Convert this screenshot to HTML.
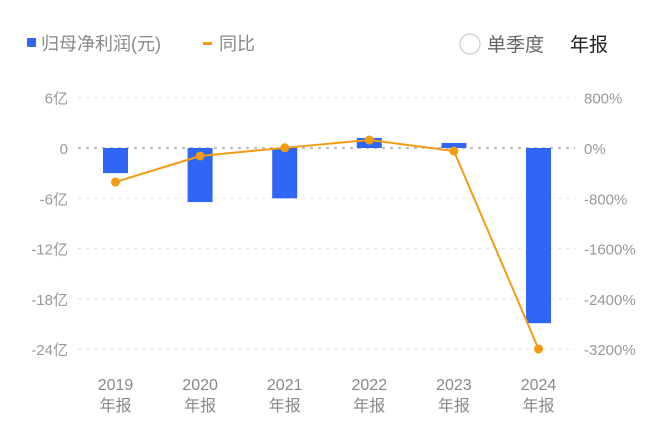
<!DOCTYPE html>
<html><head><meta charset="utf-8"><style>
body{margin:0;width:660px;height:431px;background:#fff;overflow:hidden;font-family:"Liberation Sans","Noto Sans CJK SC",sans-serif;}
svg text{font-family:"Liberation Sans","Noto Sans CJK SC",sans-serif;}
</style></head><body>
<svg width="660" height="431">
<g>
<rect x="27" y="38" width="9" height="9" rx="1" fill="#2f66f5"/>
<text x="41" y="50" font-size="18" fill="#888">归母净利润(元)</text>
<rect x="203" y="42" width="9" height="3" fill="#f39c12"/>
<text x="219" y="50" font-size="18" fill="#888">同比</text>
</g>
<circle cx="470" cy="44" r="10" fill="none" stroke="#ccc" stroke-width="1.2"/>
<text x="487" y="51" font-size="19" fill="#666">单季度</text>
<text x="570" y="51" font-size="19" fill="#222">年报</text>
<g id="grid"></g><g id="bars"></g><g id="line"></g><g id="labels"></g>
</svg>
<script>
const categories=["2019","2020","2021","2022","2023","2024"];
const profit=[-3.0,-6.45,-6.0,1.2,0.6,-20.9];
const yoy=[-541,-127,3,127,-48,-3197];
const leftTicks=[6,0,-6,-12,-18,-24];
const leftTickLabels=["6亿","0","-6亿","-12亿","-18亿","-24亿"];
const rightTickLabels=["800%","0%","-800%","-1600%","-2400%","-3200%"];
const rightTicks=[800,0,-800,-1600,-2400,-3200];
const NS="http://www.w3.org/2000/svg";
const y0=148, ppu=50.3/6;
const yL=v=>y0-v*ppu;
const yR=v=>y0-v*(50.3/800);
const xC=i=>115.5+i*84.6;
function mk(t,a,p){const e=document.createElementNS(NS,t);for(const k in a)e.setAttribute(k,a[k]);p.appendChild(e);return e;}
const grid=document.getElementById('grid'),bars=document.getElementById('bars'),line=document.getElementById('line'),labels=document.getElementById('labels');
leftTicks.forEach((v,i)=>{
 const g=mk('line',{x1:78,x2:575,y1:yL(v),y2:yL(v),stroke:v===0?'#999':'#ddd','stroke-width':v===0?1.3:1,'stroke-dasharray':'3,5'},grid);
 
 
 const t=mk('text',{x:68,y:yL(v)+6,'text-anchor':'end','font-size':15,fill:'#999'},labels);t.textContent=leftTickLabels[i];
 
 
});
rightTicks.forEach((v,i)=>{
 const t=mk('text',{x:584,y:yR(v)+6,'font-size':15,fill:'#999'},labels);t.textContent=rightTickLabels[i];
 
 
});
categories.forEach((c,i)=>{
 const v=profit[i];const top=Math.min(yL(v),y0),h=Math.abs(yL(v)-y0);
 const b=mk('rect',{x:xC(i)-12.5,y:top,width:25,height:h,fill:'#2f66f5'},bars);
 
 
 const t1=mk('text',{x:xC(i),y:390,'text-anchor':'middle','font-size':16,fill:'#888'},labels);t1.textContent=c;
 
 
 const t2=mk('text',{x:xC(i),y:411,'text-anchor':'middle','font-size':16,fill:'#888'},labels);t2.textContent='年报';
 
 
});
const pl=mk('polyline',{points:yoy.map((v,i)=>xC(i)+','+yR(v)).join(' '),fill:'none',stroke:'#f39c12','stroke-width':2},line);


yoy.forEach((v,i)=>{
 const p=mk('circle',{cx:xC(i),cy:yR(v),r:4.5,fill:'#f39c12'},line);
 
 
});
</script>
</body></html>
